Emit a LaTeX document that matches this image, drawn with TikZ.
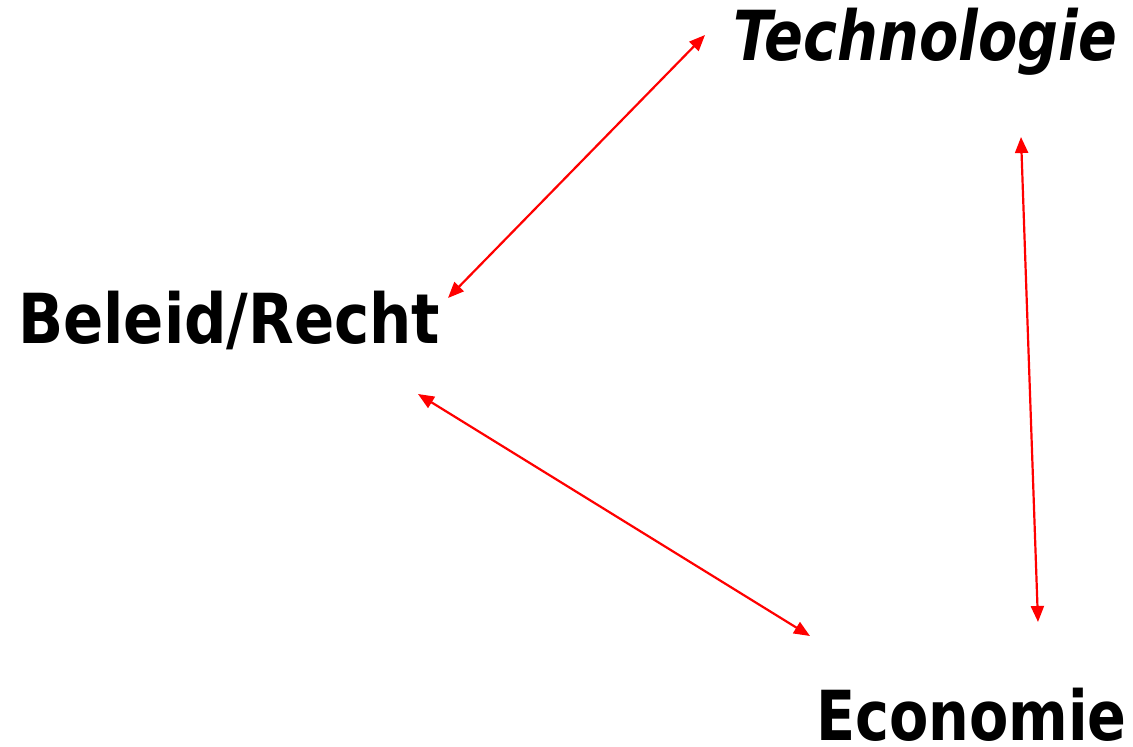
\documentclass[tikz,border=0pt]{standalone}
\usepackage{fontspec}
\setmainfont[FakeStretch=0.86]{DejaVu Sans}
\newfontfamily\narrowfont[FakeStretch=0.83]{DejaVu Sans}
\usetikzlibrary{arrows.meta}
\tikzset{x=1pt, y=-1pt,
  every node/.style={inner sep=0pt, outer sep=0pt,
    font=\fontsize{69}{80}\selectfont\bfseries},
  every edge/.style={ % red double-headed links
    draw, red, line width=2.2pt,
    {Triangle[length=16pt,width=13pt]}-{Triangle[length=16pt,width=13pt]}}}

\begin{document}
\begin{tikzpicture}
  \useasboundingbox (0,0) rectangle (1133,747);

  \node [anchor=base west] (tech) at (733,60) {\narrowfont\bfseries\itshape Technologie};
  \node [anchor=base west] (beleid) at (18,343) {Beleid/Recht};
  \node [anchor=base west] (econ) at (816,740) {\narrowfont\bfseries Economie};

  % free ends of the links
  \coordinate (tb) at (705,35);
  \coordinate (bt) at (448,298);
  \coordinate (be) at (418,394);
  \coordinate (eb) at (810,636);
  \coordinate (te) at (1021,137);
  \coordinate (et) at (1038,622);

  \draw (tb) edge (bt);
  \draw (be) edge (eb);
  \draw (te) edge (et);
\end{tikzpicture}
\end{document}
